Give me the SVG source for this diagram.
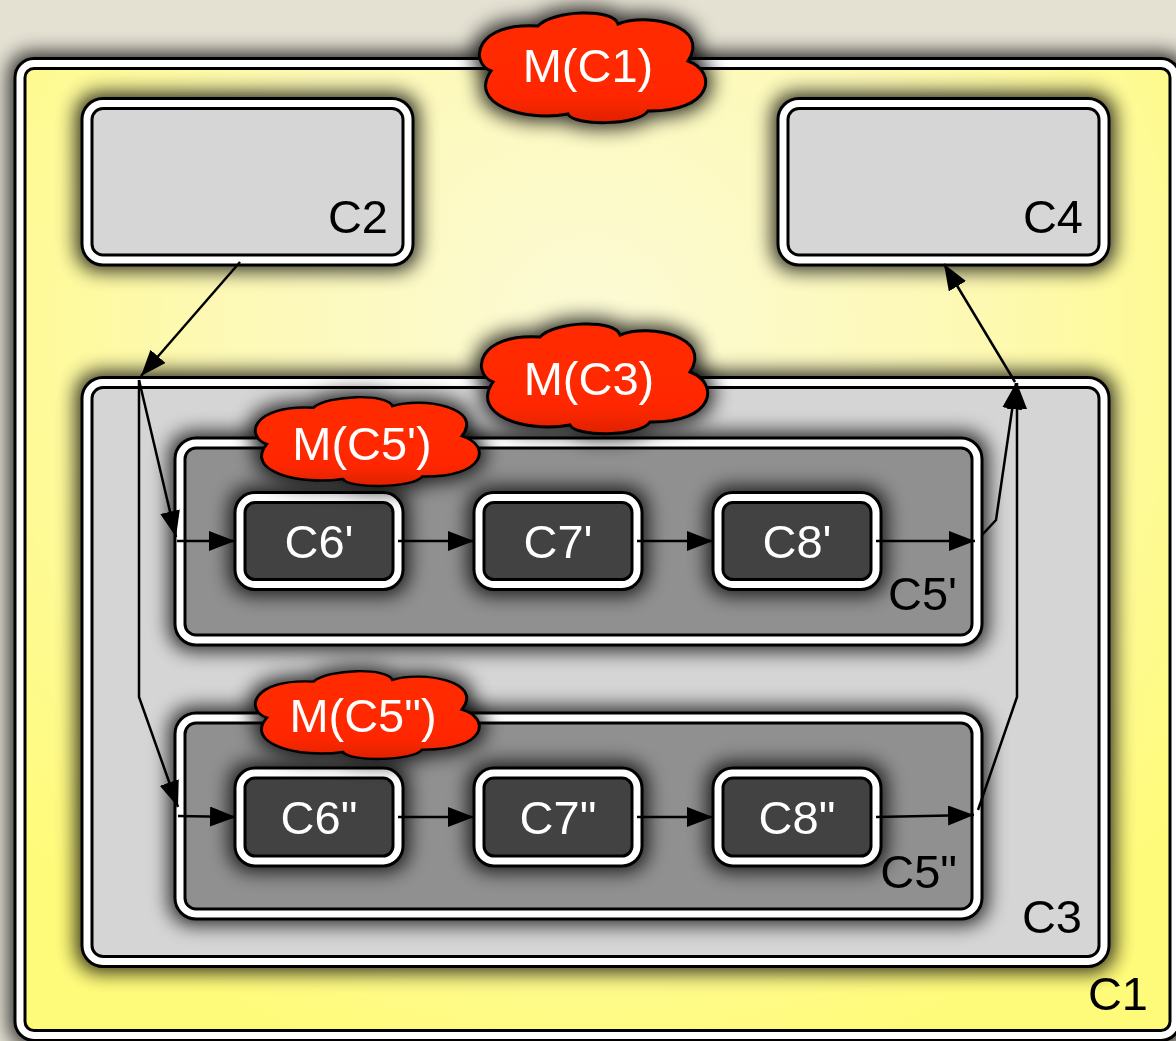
<svg xmlns="http://www.w3.org/2000/svg" width="1176" height="1041" viewBox="0 0 1176 1041">
<defs>
<style>
.ob{stroke:#000;stroke-width:13}
.wb{fill:none;stroke:#fff;stroke-width:7}
.lbl{font-family:"Liberation Sans",Arial,sans-serif;font-size:47px;fill:#000;text-anchor:end}
.nt{font-family:"Liberation Sans",Arial,sans-serif;font-size:47px;fill:#fff;text-anchor:middle}
.cl{fill:url(#red);stroke:#000;stroke-width:3}
.cn{fill:none;stroke:#000;stroke-width:2.5}
</style>
<radialGradient id="yel" gradientUnits="userSpaceOnUse" cx="590" cy="330" r="760">
<stop offset="0" stop-color="#fcfad6"/>
<stop offset="0.5" stop-color="#fdf9b4"/>
<stop offset="1" stop-color="#fffb7a"/>
</radialGradient>
<linearGradient id="red" x1="0" y1="0" x2="0" y2="1">
<stop offset="0" stop-color="#ff2a00"/>
<stop offset="0.75" stop-color="#ff2800"/>
<stop offset="1" stop-color="#e02200"/>
</linearGradient>
<filter id="sh" x="-50%" y="-60%" width="200%" height="220%">
<feMorphology in="SourceAlpha" operator="dilate" radius="4" result="d"/>
<feGaussianBlur in="d" stdDeviation="10"/>
<feComponentTransfer><feFuncA type="linear" slope="0.85"/></feComponentTransfer>
<feMerge><feMergeNode/><feMergeNode in="SourceGraphic"/></feMerge>
</filter>
<marker id="ah" markerWidth="27" markerHeight="20" refX="26" refY="10" orient="auto" markerUnits="userSpaceOnUse">
<path d="M0,0 L26,10 L0,20 z" fill="#000"/>
</marker>
<path id="cloud" d="M 18 57 C -4 48, 2 8, 65 12 C 80 -4, 140 -6, 145 10 C 175 -2, 238 12, 215 47 C 245 58, 240 98, 175 97 C 165 112, 100 112, 95 100 C 50 108, -5 90, 18 57 Z"/>
</defs>

<rect x="0" y="0" width="1176" height="1041" fill="#e4e1d3"/>

<g id="C1" filter="url(#sh)">
<rect x="20" y="63.5" width="1155" height="972" rx="14" fill="url(#yel)" class="ob"/>
<rect x="20" y="63.5" width="1155" height="972" rx="14" class="wb"/>
<text class="lbl" x="1148" y="1010">C1</text>
</g>

<g id="C2" filter="url(#sh)">
<rect x="87" y="103.5" width="321" height="156.5" rx="16" fill="#d6d6d6" class="ob"/>
<rect x="87" y="103.5" width="321" height="156.5" rx="16" class="wb"/>
<text class="lbl" x="388" y="233">C2</text>
</g>

<g id="C4" filter="url(#sh)">
<rect x="783" y="103.5" width="321" height="156.5" rx="16" fill="#d6d6d6" class="ob"/>
<rect x="783" y="103.5" width="321" height="156.5" rx="16" class="wb"/>
<text class="lbl" x="1083" y="233">C4</text>
</g>

<g id="C3" filter="url(#sh)">
<rect x="87" y="382.5" width="1017" height="579" rx="16" fill="#d5d5d5" class="ob"/>
<rect x="87" y="382.5" width="1017" height="579" rx="16" class="wb"/>
<text class="lbl" x="1082" y="933">C3</text>
</g>

<g id="C5p" filter="url(#sh)">
<rect x="180" y="443" width="797" height="197" rx="16" fill="#909090" class="ob"/>
<rect x="180" y="443" width="797" height="197" rx="16" class="wb"/>
<text class="lbl" x="957" y="610">C5'</text>
</g>

<g id="C5pp" filter="url(#sh)">
<rect x="180" y="718" width="797" height="196" rx="16" fill="#909090" class="ob"/>
<rect x="180" y="718" width="797" height="196" rx="16" class="wb"/>
<text class="lbl" x="957" y="888">C5"</text>
</g>

<g id="C6p" filter="url(#sh)">
<rect x="240" y="497.5" width="158" height="87" rx="15" fill="#424242" class="ob"/>
<rect x="240" y="497.5" width="158" height="87" rx="15" class="wb"/>
<text class="nt" x="319" y="558">C6'</text>
</g>
<g id="C7p" filter="url(#sh)">
<rect x="479" y="497.5" width="158" height="87" rx="15" fill="#424242" class="ob"/>
<rect x="479" y="497.5" width="158" height="87" rx="15" class="wb"/>
<text class="nt" x="558" y="558">C7'</text>
</g>
<g id="C8p" filter="url(#sh)">
<rect x="718" y="497.5" width="158" height="87" rx="15" fill="#424242" class="ob"/>
<rect x="718" y="497.5" width="158" height="87" rx="15" class="wb"/>
<text class="nt" x="797" y="558">C8'</text>
</g>

<g id="C6pp" filter="url(#sh)">
<rect x="240" y="773" width="158" height="88" rx="15" fill="#424242" class="ob"/>
<rect x="240" y="773" width="158" height="88" rx="15" class="wb"/>
<text class="nt" x="319" y="834">C6"</text>
</g>
<g id="C7pp" filter="url(#sh)">
<rect x="479" y="773" width="158" height="88" rx="15" fill="#424242" class="ob"/>
<rect x="479" y="773" width="158" height="88" rx="15" class="wb"/>
<text class="nt" x="558" y="834">C7"</text>
</g>
<g id="C8pp" filter="url(#sh)">
<rect x="718" y="773" width="158" height="88" rx="15" fill="#424242" class="ob"/>
<rect x="718" y="773" width="158" height="88" rx="15" class="wb"/>
<text class="nt" x="797" y="834">C8"</text>
</g>

<g id="MC1" filter="url(#sh)">
<use href="#cloud" class="cl" transform="translate(473,14)"/>
<text class="nt" x="588" y="82">M(C1)</text>
</g>
<g id="MC3" filter="url(#sh)">
<use href="#cloud" class="cl" transform="translate(475,325)"/>
<text class="nt" x="589" y="395">M(C3)</text>
</g>
<g id="MC5p" filter="url(#sh)">
<use href="#cloud" class="cl" transform="translate(249,398) scale(0.99,0.81)"/>
<text class="nt" x="362" y="460">M(C5')</text>
</g>
<g id="MC5pp" filter="url(#sh)">
<use href="#cloud" class="cl" transform="translate(249,672) scale(0.99,0.8)"/>
<text class="nt" x="363" y="732">M(C5")</text>
</g>

<g id="connectors">
<path class="cn" d="M240,262 L141,376" marker-end="url(#ah)"/>
<path class="cn" d="M139,380 L176,537" marker-end="url(#ah)"/>
<path class="cn" d="M139,380 L139,697 L178,807" marker-end="url(#ah)"/>
<path class="cn" d="M177,541 L235,541" marker-end="url(#ah)"/>
<path class="cn" d="M398,541 L474,541" marker-end="url(#ah)"/>
<path class="cn" d="M637,541 L713,541" marker-end="url(#ah)"/>
<path class="cn" d="M876,541 L975,541" marker-end="url(#ah)"/>
<path class="cn" d="M178,816 L236,817" marker-end="url(#ah)"/>
<path class="cn" d="M398,817 L474,817" marker-end="url(#ah)"/>
<path class="cn" d="M637,817 L713,817" marker-end="url(#ah)"/>
<path class="cn" d="M876,817 L974,815" marker-end="url(#ah)"/>
<path class="cn" d="M982,535 L996,520 L1016,383" marker-end="url(#ah)"/>
<path class="cn" d="M978,810 L1017,697 L1017,383" marker-end="url(#ah)"/>
<path class="cn" d="M1015,382 L944,264" marker-end="url(#ah)"/>
</g>
</svg>
